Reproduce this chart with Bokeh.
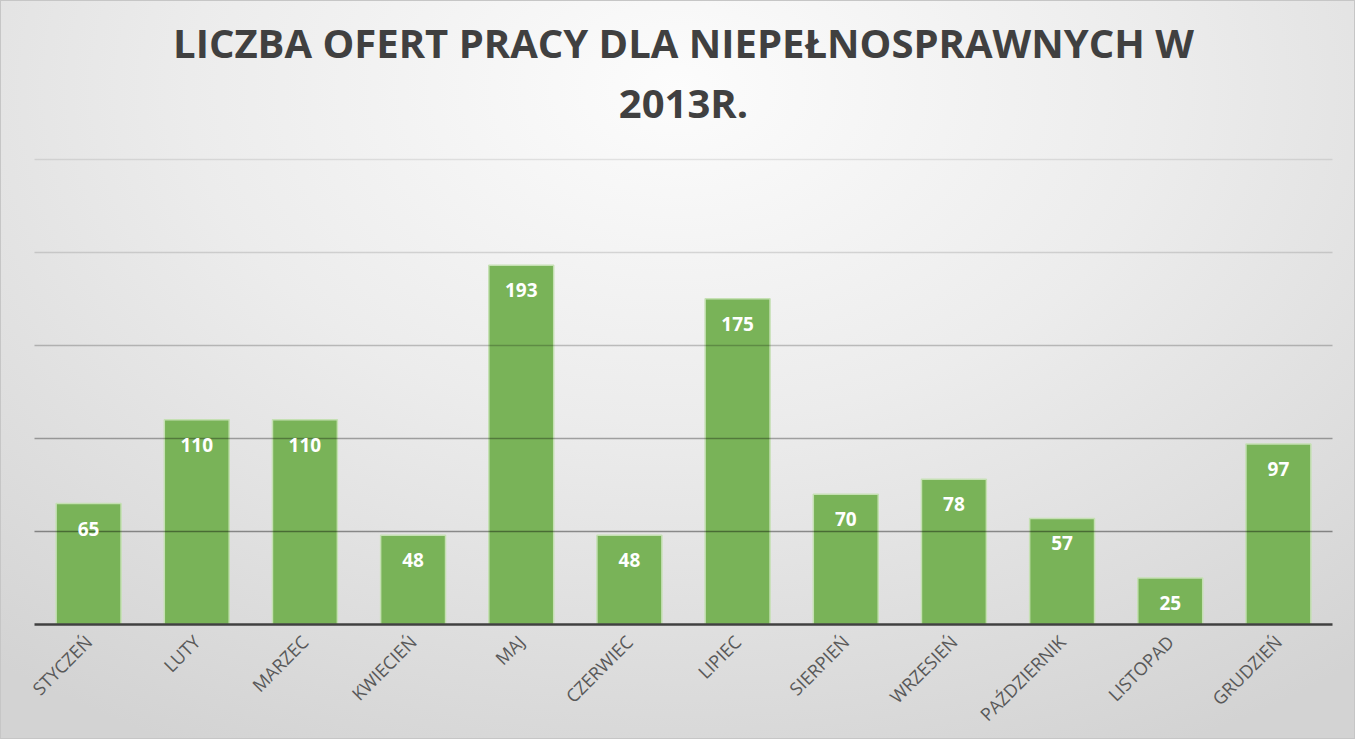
import math
from bokeh.plotting import figure
from bokeh.models import ColumnDataSource, FactorRange, Range1d, LabelSet, Grid, FixedTicker, Title
from bokeh.core.properties import value
from bokeh.embed import file_html
from bokeh.resources import INLINE

months = ["STYCZEŃ", "LUTY", "MARZEC", "KWIECIEŃ", "MAJ", "CZERWIEC",
          "LIPIEC", "SIERPIEŃ", "WRZESIEŃ", "PAŹDZIERNIK", "LISTOPAD", "GRUDZIEŃ"]
offers = [65, 110, 110, 48, 193, 48, 175, 70, 78, 57, 25, 97]
grid_values = [50, 100, 150, 200, 250]
grid_alphas = [0.40, 0.32, 0.22, 0.13, 0.09]
title_lines = ["LICZBA OFERT PRACY DLA NIEPEŁNOSPRAWNYCH W", "2013R."]

source = ColumnDataSource(data=dict(
    month=months,
    value=offers,
    label=[str(v) for v in offers],
))

p = figure(
    width=1355, height=739,
    x_range=FactorRange(factors=months, range_padding=0),
    y_range=Range1d(0, 260),
    output_backend="svg", toolbar_location=None,
    y_axis_location=None,
    min_border_left=34, min_border_right=23,
    min_border_top=140, min_border_bottom=115,
    styles={
        "background-image": "radial-gradient(ellipse 80% 100% at 50% 12%, #fcfcfc 0%, #ececec 45%, #d3d3d3 100%)",
        "box-shadow": "inset 0 0 0 1px #c6c6c6",
    },
)
p.background_fill_alpha = 0
p.border_fill_alpha = 0
p.outline_line_color = None
p.grid.visible = False
p.title.visible = False

# second line first (closest to the frame), then the first line above it
for line, standoff in [(title_lines[1], 22), (title_lines[0], -16)]:
    t = Title(text=line, align="center", text_font="Open Sans", text_font_style="bold",
              text_font_size="40px", text_color="#404040", standoff=standoff)
    p.add_layout(t, "above")

p.vbar(x="month", top="value", width=0.6, source=source,
       fill_color="#79b358", line_color="#c5e0b3", line_width=1.5)

for v, a in zip(grid_values, grid_alphas):
    g = Grid(dimension=1, ticker=FixedTicker(ticks=[v]),
             grid_line_color="black", grid_line_alpha=a, grid_line_width=1.5,
             level="guide")
    p.add_layout(g)

labels = LabelSet(x="month", y="value", text="label", source=source,
                  y_offset=-25, text_align="center", text_baseline="middle",
                  text_color="white", text_font=value("Open Sans"), text_font_style="bold",
                  text_font_size="19px")
p.add_layout(labels)

ax = p.xaxis[0]
ax.major_label_orientation = math.pi / 4
ax.major_label_text_font = "Open Sans"
ax.major_label_text_font_size = "18px"
ax.major_label_text_color = "#595959"
ax.major_tick_line_color = None
ax.minor_tick_line_color = None
ax.axis_line_color = "#404040"
ax.axis_line_width = 2.5
ax.major_label_standoff = 8

open("out.html", "w").write(file_html(p, INLINE))
